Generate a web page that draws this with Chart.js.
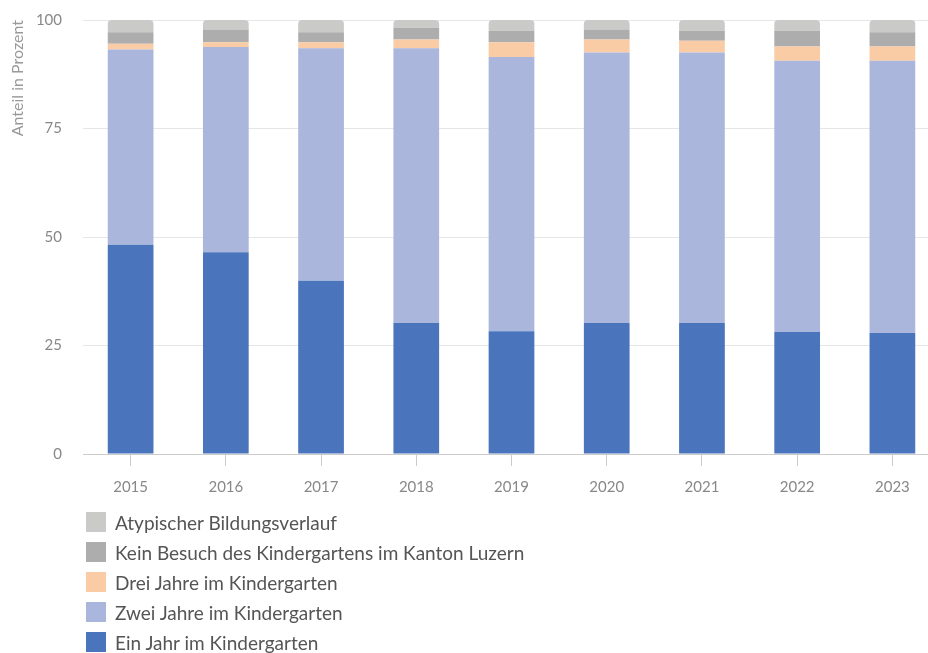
<!DOCTYPE html>
<html>
<head>
<meta charset="utf-8">
<script src="https://cdn.jsdelivr.net/npm/chart.js@4/dist/chart.umd.min.js"></script>
<style>
    html, body { margin: 0; padding: 0; background: #fff; overflow: hidden; }
    body { width: 928px; height: 653px; position: relative; font-family: Lato, "Noto Sans", sans-serif; }
    #wrap { position: absolute; left: 0; top: 0; width: 940px; height: 508px; }
    #legend { position: absolute; left: 86px; top: 507px; margin: 0; padding: 0; list-style: none; }
    #legend li { height: 30px; display: flex; align-items: center; font-size: 19px; color: #555; }
    #legend span.box { width: 20px; height: 20px; margin-right: 9px; display: inline-block; }
</style>
</head>
<body>
<div id="wrap"><canvas id="kgChart"></canvas></div>
<ul id="legend"></ul>
<script>
// Jahre
const years = ['2015', '2016', '2017', '2018', '2019', '2020', '2021', '2022', '2023'];

// Anteile in Prozent, von unten nach oben gestapelt
const einJahr = [48.2, 46.5, 39.9, 30.2, 28.3, 30.2, 30.2, 28.1, 27.9];
const zweiJahre = [45.0, 47.3, 53.6, 63.3, 63.2, 62.3, 62.3, 62.5, 62.7];
const dreiJahre = [1.3, 1.1, 1.4, 2.0, 3.4, 3.0, 2.7, 3.3, 3.3];
const keinBesuch = [2.7, 2.9, 2.3, 2.7, 2.6, 2.3, 2.3, 3.6, 3.3];
const atypisch = [2.8, 2.2, 2.8, 1.8, 2.5, 2.2, 2.5, 2.5, 2.8];

const yTicks = [0, 25, 50, 75, 100];

const ctx = document.getElementById('kgChart').getContext('2d');
const chart = new Chart(ctx, {
    type: 'bar',
    data: {
        labels: years,
        datasets: [
            { label: 'Ein Jahr im Kindergarten', data: einJahr, backgroundColor: '#4a74bb' },
            { label: 'Zwei Jahre im Kindergarten', data: zweiJahre, backgroundColor: '#aab6db' },
            { label: 'Drei Jahre im Kindergarten', data: dreiJahre, backgroundColor: '#f9cca5' },
            { label: 'Kein Besuch des Kindergartens im Kanton Luzern', data: keinBesuch, backgroundColor: '#adadad' },
            { label: 'Atypischer Bildungsverlauf', data: atypisch, backgroundColor: '#cacac8',
              borderRadius: { topLeft: 4, topRight: 4, bottomLeft: 0, bottomRight: 0 }, borderSkipped: false }
        ]
    },
    options: {
        responsive: true,
        maintainAspectRatio: false,
        animation: false,
        layout: { padding: { top: 20, left: 0, right: 0, bottom: 0 } },
        datasets: { bar: { barPercentage: 0.48, categoryPercentage: 1.0 } },
        scales: {
            x: {
                stacked: true,
                grid: { display: true, drawOnChartArea: false, drawTicks: true, tickLength: 12, offset: false, color: '#ccc' },
                border: { color: '#ccc' },
                ticks: { color: '#888', font: { family: 'Lato', size: 15 }, padding: 12 }
            },
            y: {
                stacked: true,
                min: 0,
                max: 100,
                afterBuildTicks: (axis) => { axis.ticks = yTicks.map(v => ({ value: v })); },
                afterFit: (axis) => { axis.width = 83; },
                // unsichtbare Tick-Striche als Abstand zwischen Label und Fläche
                grid: { color: '#e6e6e6', drawTicks: true, tickLength: 21, tickColor: 'rgba(0,0,0,0)' },
                border: { display: false },
                ticks: { color: '#888', font: { family: 'Lato', size: 15 }, padding: 0 },
                title: { display: true, text: 'Anteil in Prozent', align: 'end', color: '#999', font: { family: 'Lato', size: 16 }, padding: { top: 8, bottom: 0 } }
            }
        },
        plugins: {
            legend: { display: false },
            tooltip: { enabled: true }
        }
    }
});

// HTML-Legende, umgekehrte Reihenfolge
const legend = document.getElementById('legend');
chart.data.datasets.slice().reverse().forEach(ds => {
    const li = document.createElement('li');
    const box = document.createElement('span');
    box.className = 'box';
    box.style.background = ds.backgroundColor;
    li.appendChild(box);
    li.appendChild(document.createTextNode(ds.label));
    legend.appendChild(li);
});
</script>
</body>
</html>
